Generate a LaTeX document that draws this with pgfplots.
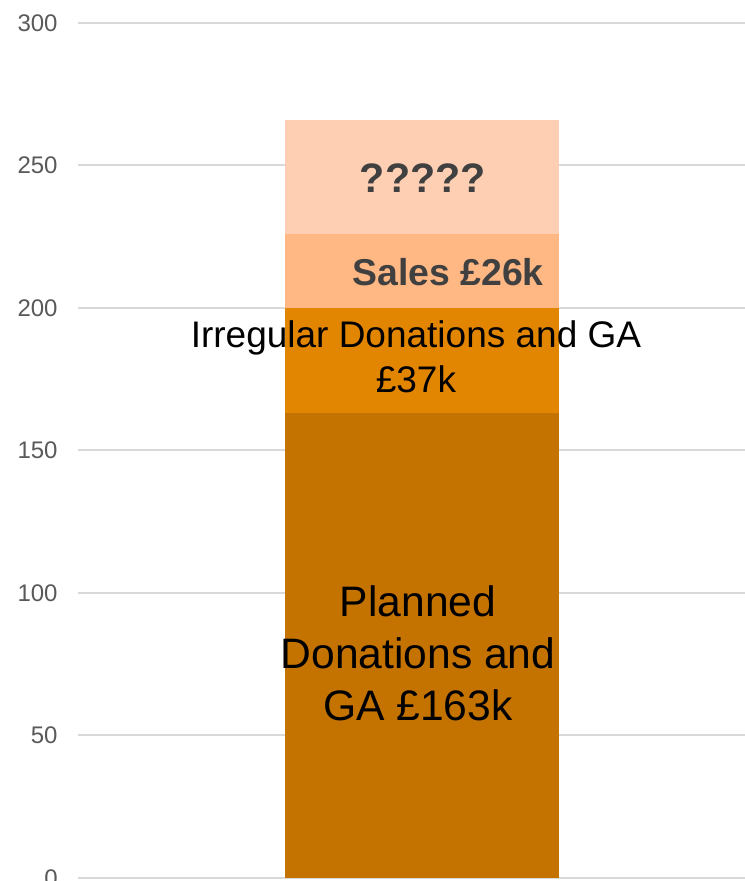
\documentclass[border=0pt]{standalone}
\usepackage{pgfplots}
\pgfplotsset{compat=1.18}
\usepackage{fontspec}
\setmainfont{Liberation Sans}
\definecolor{planned}{HTML}{C47200}
\definecolor{irregular}{HTML}{E28500}
\definecolor{sales}{HTML}{FFB784}
\definecolor{unknown}{HTML}{FFCFB4}
\definecolor{gridc}{HTML}{D9D9D9}
\definecolor{tickc}{HTML}{595959}
\definecolor{darktext}{HTML}{404040}
\begin{document}
\begin{tikzpicture}
\begin{axis}[
  scale only axis,
  width=333.5pt, height=427.5pt,
  xmin=-0.5, xmax=0.5,
  ymin=0, ymax=300,
  ytick={0,50,...,300},
  xtick=\empty,
  ymajorgrids,
  grid style={gridc, line width=1pt},
  axis line style={draw=none},
  tick style={draw=none},
  /pgf/number format/assume math mode=true,
  yticklabel style={font=\fontsize{12}{14}\selectfont, text=tickc, inner sep=0pt, xshift=-10pt},
  ybar stacked,
  bar width=137pt,
  clip=false,
]
\addplot[fill=planned, draw=none] coordinates {(0.016,163)};
\addplot[fill=irregular, draw=none] coordinates {(0.016,37)};
\addplot[fill=sales, draw=none] coordinates {(0.016,26)};
\addplot[fill=unknown, draw=none] coordinates {(0.016,40)};
\coordinate (sw) at (rel axis cs:0,0);
\coordinate (ne) at (rel axis cs:1,1);
\coordinate (lp) at (axis cs:0.0097,79);
\coordinate (li) at (axis cs:0.0067,182.8);
\coordinate (ls) at (axis cs:0.055,212.6);
\coordinate (lq) at (axis cs:0.017,245.6);
\end{axis}
\node[align=center, font=\fontsize{21.3}{26}\selectfont, text=black] at (lp) {Planned\\Donations and\\GA £163k};
\node[align=center, font=\fontsize{18.5}{22.5}\selectfont, text=black] at (li) {Irregular Donations and GA\\£37k};
\node[font=\fontsize{18.7}{22}\selectfont\bfseries, text=darktext] at (ls) {Sales £26k};
\node[font=\fontsize{20.6}{24}\selectfont\bfseries, text=darktext] at (lq) {?????};
\pgfresetboundingbox
\path[use as bounding box] ([xshift=-39pt,yshift=-1.5pt]sw) rectangle ([yshift=11.5pt]ne);
\end{tikzpicture}
\end{document}
